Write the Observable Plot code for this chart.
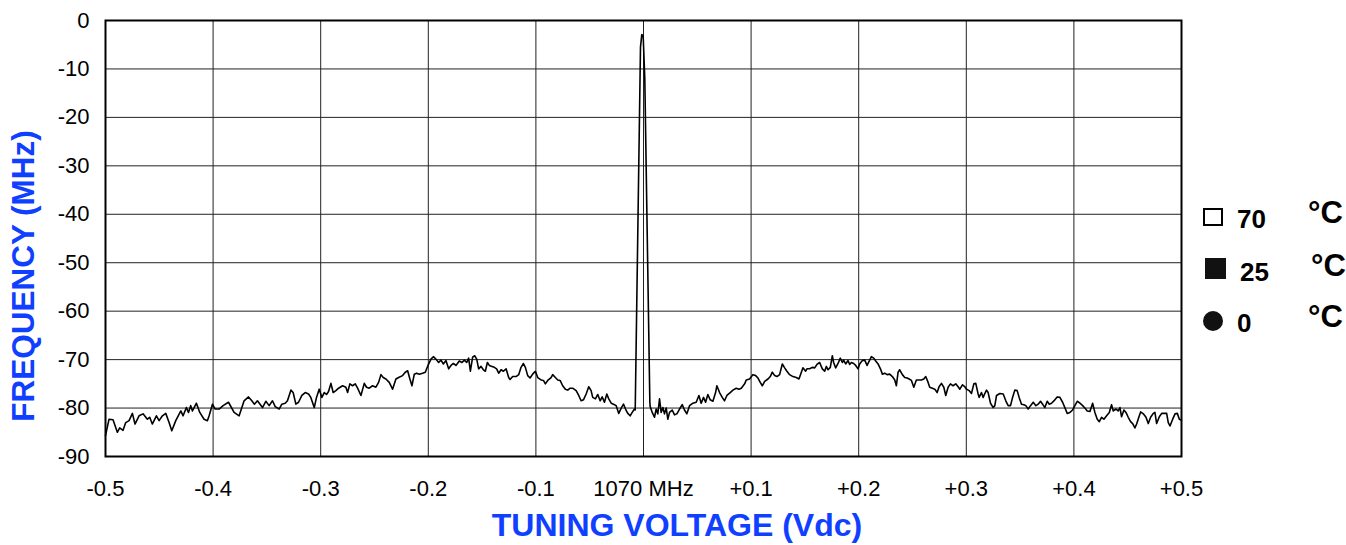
<!DOCTYPE html>
<html><head><meta charset="utf-8">
<script src="https://cdn.jsdelivr.net/npm/d3@7"></script>
<script src="https://cdn.jsdelivr.net/npm/@observablehq/plot@0.6"></script>
<style>
html,body{margin:0;padding:0;background:#fff;}
#chart{width:1346px;height:545px;}
</style>
</head><body><div id="chart"></div>
<script>
// Tuning voltage offsets (Vdc) and measured level
const tuningVdc = [
-0.5,-0.4967,-0.4930,-0.4890,-0.4868,-0.4837,-0.4812,-0.4781,-0.4750,-0.4726,-0.4688,-0.4651,-0.4611,-0.4589,-0.4565,-0.4527,-0.4502,-0.4471,-0.4440,-0.4409,-0.4384,-0.4347,-0.4300,-0.4279,-0.4248,-0.4229,-0.4208,-0.4192,-0.4155,-0.4124,-0.4084,-0.4053,-0.4037,-0.4006,-0.3981,-0.3944,-0.3907,-0.3857,-0.3805,-0.3758,-0.3712,-0.3671,-0.3640,-0.3616,-0.3588,-0.3541,-0.3510,-0.3479,-0.3448,-0.3423,
-0.3386,-0.3361,-0.3330,-0.3309,-0.3277,-0.3256,-0.3231,-0.3206,-0.3175,-0.3144,-0.3113,-0.3092,-0.3060,-0.3039,-0.3014,-0.2989,-0.2967,-0.2946,-0.2927,-0.2905,-0.2884,-0.2859,-0.2834,-0.2797,-0.2766,-0.2750,-0.2729,-0.2704,-0.2679,-0.2657,-0.2626,-0.2595,-0.2574,-0.2549,-0.2518,-0.2487,-0.2462,-0.2440,-0.2419,-0.2394,-0.2363,-0.2332,-0.2301,-0.2276,-0.2239,-0.2214,-0.2192,-0.2171,-0.2152,-0.2130,-0.2109,-0.2084,-0.2053,-0.2028,-0.2003,-0.1975,-0.1953,-0.1929,-0.1904,-0.1882,-0.1860,-0.1836,-0.1811,-0.1789,-0.1767,-0.1743,-0.1712,
-0.1687,-0.1665,-0.1643,-0.1625,-0.1609,-0.1588,-0.1569,-0.1550,-0.1532,-0.1510,-0.1488,-0.1470,-0.1451,-0.1433,-0.1408,-0.1386,-0.1365,-0.1346,-0.1324,-0.1302,-0.1277,-0.1253,-0.1240,-0.1216,-0.1184,-0.1160,-0.1138,-0.1116,-0.1098,-0.1076,-0.1054,-0.1030,-0.1005,-0.0983,-0.0952,-0.0930,-0.0912,-0.0890,-0.0859,-0.0844,-0.0819,-0.0797,-0.0775,-0.0751,-0.0726,-0.0704,-0.0682,-0.0658,-0.0626,-0.0602,-0.0580,-0.0558,-0.0533,-0.0509,-0.0487,-0.0472,-0.0447,-0.0425,-0.0403,-0.0384,-0.0363,-0.0341,-0.0323,-0.0300,-0.0279,-0.0254,-0.0230,-0.0207,-0.0186,-0.0167,-0.0146,-0.0124,-0.0105,-0.0084,-0.0077,
-0.0028,-0.0016,-0.0003,0.0012,0.0059,
0.0062,0.0081,0.0102,0.0118,0.0133,0.0149,0.0164,0.0180,0.0195,0.0211,0.0226,0.0242,0.0267,0.0288,0.0310,0.0335,0.0360,0.0381,0.0403,0.0428,0.0459,0.0490,0.0515,0.0536,0.0558,0.0577,0.0598,0.0620,0.0645,0.0670,0.0682,0.0707,0.0732,0.0753,0.0775,0.0806,0.0831,0.0862,0.0887,0.0909,0.0940,0.0955,0.0986,0.1017,0.1042,0.1064,0.1085,0.1104,0.1126,0.1157,0.1178,0.1197,0.1219,0.1240,0.1265,0.1290,0.1312,0.1333,0.1358,0.1389,0.1420,0.1445,0.1467,0.1482,0.1507,0.1519,0.1544,0.1569,0.1591,0.1612,0.1637,
0.1662,0.1684,0.1699,0.1715,0.1736,0.1755,0.1767,0.1786,0.1808,0.1829,0.1848,0.1860,0.1879,0.1901,0.1916,0.1932,0.1953,0.1972,0.1994,0.2009,0.2034,0.2056,0.2078,0.2102,0.2118,0.2140,0.2158,0.2180,0.2202,0.2220,0.2242,0.2264,0.2288,0.2313,0.2335,0.2350,0.2366,0.2381,0.2406,0.2428,0.2450,0.2468,0.2490,0.2512,0.2536,0.2561,0.2583,0.2605,0.2623,0.2645,0.2660,0.2685,0.2707,0.2729,0.2747,0.2769,0.2791,0.2809,0.2831,0.2853,0.2877,0.2902,0.2924,0.2940,0.2964,0.2986,0.3002,0.3026,0.3048,0.3070,0.3088,0.3110,0.3119,0.3141,0.3157,0.3172,0.3188,0.3203,0.3225,0.3250,0.3265,0.3281,0.3312,
0.3343,0.3367,0.3389,0.3411,0.3430,0.3451,0.3473,0.3491,0.3513,0.3535,0.3553,0.3575,0.3597,0.3622,0.3647,0.3668,0.3690,0.3709,0.3730,0.3752,0.3771,0.3792,0.3823,0.3845,0.3870,0.3895,0.3916,0.3938,0.3963,0.3988,0.4009,0.4031,0.4056,0.4081,0.4102,0.4124,0.4149,0.4174,0.4195,0.4217,0.4236,0.4257,0.4279,0.4304,0.4329,0.4350,0.4366,0.4391,0.4412,0.4428,0.4443,0.4465,0.4484,0.4505,0.4527,0.4546,0.4567,0.4583,0.4608,0.4620,0.4645,0.4670,0.4691,0.4713,0.4738,0.4753,0.4769,0.4794,0.4816,0.4837,0.4862,0.4877,0.4893,0.4918,0.4940,0.4961,0.4980,0.5
];
const levelDb = [
-85.7,-82.3,-82.4,-85.0,-84.1,-84.6,-83.0,-82.6,-81.1,-83.3,-81.6,-81.2,-82.3,-81.9,-83.3,-81.6,-82.6,-81.6,-81.1,-83.0,-84.7,-82.6,-80.6,-81.6,-79.9,-80.9,-79.5,-80.6,-79.0,-80.9,-82.3,-82.6,-81.6,-79.2,-80.2,-80.2,-79.5,-78.8,-80.9,-81.6,-78.5,-77.7,-78.5,-79.2,-78.5,-79.9,-78.6,-79.5,-78.5,-79.7,
-80.2,-79.2,-79.0,-78.5,-76.3,-76.8,-79.2,-78.8,-77.4,-76.8,-77.1,-77.8,-79.9,-77.8,-76.1,-77.8,-76.8,-77.2,-76.6,-74.9,-76.8,-76.4,-75.9,-75.4,-75.7,-76.8,-75.0,-75.4,-75.0,-75.9,-77.4,-74.9,-75.7,-75.9,-75.4,-75.7,-74.7,-73.1,-73.7,-74.0,-74.7,-76.1,-74.0,-73.7,-73.3,-72.6,-72.3,-74.0,-75.4,-73.0,-72.8,-73.0,-72.8,-72.6,-71.2,-69.9,-69.4,-69.9,-70.6,-70.1,-70.9,-70.2,-71.9,-71.2,-70.8,-71.2,-70.3,
-70.6,-70.1,-70.6,-69.7,-72.4,-69.5,-69.2,-69.9,-71.9,-71.4,-72.1,-72.4,-70.6,-71.2,-71.4,-71.6,-71.9,-72.8,-72.1,-72.4,-71.9,-73.7,-74.1,-73.5,-73.5,-73.1,-71.6,-70.8,-71.6,-73.3,-73.8,-73.0,-72.4,-73.7,-74.2,-74.3,-75.0,-74.3,-73.7,-73.1,-73.7,-74.2,-74.3,-75.4,-76.1,-76.3,-75.9,-75.9,-76.4,-77.4,-78.5,-78.3,-77.1,-75.6,-76.4,-77.8,-78.1,-77.2,-78.5,-77.7,-78.8,-77.1,-78.1,-79.0,-79.2,-79.5,-81.1,-80.0,-79.2,-80.2,-81.1,-81.6,-80.9,-80.2,-80.4,
-5.5,-2.9,-3.2,-12.0,-78.8,
-79.7,-80.9,-81.9,-80.2,-81.2,-78.1,-80.9,-79.9,-81.2,-80.0,-82.3,-80.9,-80.4,-81.4,-81.2,-80.2,-79.3,-80.4,-81.2,-79.5,-79.0,-78.8,-77.4,-79.0,-77.8,-78.8,-77.2,-78.3,-78.6,-76.8,-75.4,-76.8,-77.8,-78.5,-77.4,-76.8,-76.3,-75.9,-76.1,-75.9,-75.0,-74.2,-74.0,-73.1,-73.3,-73.8,-74.7,-75.4,-74.5,-74.0,-73.5,-72.6,-73.3,-73.5,-73.1,-70.9,-71.7,-72.4,-73.1,-73.5,-73.7,-74.0,-72.6,-71.7,-72.4,-71.9,-71.9,-71.6,-71.7,-71.0,-70.6,
-71.9,-72.4,-71.4,-72.1,-71.6,-69.2,-70.6,-71.7,-70.8,-69.7,-70.6,-70.1,-70.9,-70.2,-71.0,-70.6,-70.8,-71.2,-71.9,-70.9,-70.2,-70.1,-71.2,-70.1,-69.4,-69.7,-70.3,-70.9,-71.9,-73.0,-72.8,-73.1,-73.0,-73.5,-74.2,-75.4,-72.6,-72.1,-73.1,-73.7,-73.8,-74.0,-74.3,-75.7,-74.2,-74.2,-74.2,-74.0,-73.5,-74.7,-75.7,-75.9,-76.1,-76.8,-75.6,-74.9,-75.7,-77.4,-75.7,-75.0,-75.4,-75.0,-75.6,-76.1,-75.2,-75.6,-76.1,-76.4,-77.0,-75.0,-74.9,-77.1,-77.8,-76.8,-77.8,-77.0,-76.3,-76.8,-79.0,-79.9,-79.5,-77.4,-77.0,
-77.1,-78.5,-79.5,-79.5,-77.8,-76.3,-76.4,-77.8,-79.2,-79.3,-79.5,-80.2,-79.5,-78.8,-79.5,-79.2,-78.6,-79.2,-79.9,-78.6,-79.2,-79.0,-78.3,-77.7,-77.8,-78.8,-79.9,-81.1,-80.9,-80.4,-79.5,-78.6,-79.0,-79.5,-80.0,-80.6,-80.7,-79.0,-80.9,-82.3,-82.8,-81.9,-82.3,-81.6,-80.9,-79.3,-80.6,-80.2,-80.6,-79.9,-81.8,-80.4,-80.9,-81.9,-82.8,-83.2,-84.1,-83.3,-81.6,-80.8,-81.2,-81.9,-83.2,-81.9,-81.1,-80.9,-83.2,-81.8,-81.1,-81.1,-81.1,-83.0,-83.7,-82.3,-81.2,-81.1,-82.3,-82.5
];
const xTicks = [-0.5,-0.4,-0.3,-0.2,-0.1,0,0.1,0.2,0.3,0.4,0.5];
const xTickLabels = ["-0.5","-0.4","-0.3","-0.2","-0.1","1070 MHz","+0.1","+0.2","+0.3","+0.4","+0.5"];
const yTicks = [0,-10,-20,-30,-40,-50,-60,-70,-80,-90];
const yTickLabels = ["0","-10","-20","-30","-40","-50","-60","-70","-80","-90"];
const xTitle = "TUNING VOLTAGE (Vdc)";
const yTitle = "FREQUENCY (MHz)";
const legendTemps = ["70","25","0"];
const legendUnit = "°C";

const trace = tuningVdc.map((v, i) => ({v, db: levelDb[i]}));

const chart = Plot.plot({
  width: 1346, height: 545,
  marginLeft: 105, marginRight: 165, marginTop: 20, marginBottom: 89,
  style: {fontFamily: "'Liberation Sans', Arial, sans-serif", fontSize: "22px", color: "#000", background: "#fff"},
  x: {domain: [-0.5, 0.5]},
  y: {domain: [-90, 0]},
  marks: [
    Plot.gridX(xTicks, {stroke: "#222", strokeOpacity: 1, strokeWidth: 1}),
    Plot.gridY(yTicks, {stroke: "#222", strokeOpacity: 1, strokeWidth: 1}),
    Plot.axisX(xTicks, {tickSize: 0, tickPadding: 24, label: null, fontSize: 22,
      tickFormat: d => xTickLabels[xTicks.indexOf(d)]}),
    Plot.axisY(yTicks, {tickSize: 0, tickPadding: 16, label: null, fontSize: 22,
      tickFormat: d => yTickLabels[yTicks.indexOf(d)]}),
    Plot.line(trace, {x: "v", y: "db", stroke: "#000", strokeWidth: 1.6}),
    Plot.frame({stroke: "#000", strokeWidth: 2})
  ]
});

const svg = d3.select(chart);
const blue = "#1040ff";
const font = "'Liberation Sans', Arial, sans-serif";
svg.append("text").attr("x", 677).attr("y", 536).attr("text-anchor", "middle")
  .attr("font-family", font).attr("font-weight", "bold").attr("font-size", 32)
  .attr("fill", blue).text(xTitle);
svg.append("text").attr("transform", "translate(34,276) rotate(-90)").attr("text-anchor", "middle")
  .attr("font-family", font).attr("font-weight", "bold").attr("font-size", 31.5)
  .attr("fill", blue).text(yTitle);

const lg = svg.append("g").attr("font-family", font).attr("font-weight", "bold")
  .attr("fill", "#000").attr("text-anchor", "start");
lg.append("rect").attr("x", 1204).attr("y", 209).attr("width", 18).attr("height", 16)
  .attr("fill", "#fff").attr("stroke", "#000").attr("stroke-width", 2);
lg.append("rect").attr("x", 1205).attr("y", 258).attr("width", 21).attr("height", 21).attr("fill", "#111");
lg.append("circle").attr("cx", 1213).attr("cy", 321).attr("r", 10).attr("fill", "#111");
const numPos = [[1237, 228], [1240, 281], [1237, 332]];
const unitPos = [[1308, 223], [1311, 276], [1308, 327]];
legendTemps.forEach((t, i) => {
  lg.append("text").attr("x", numPos[i][0]).attr("y", numPos[i][1]).attr("font-size", 26)
    .attr("text-anchor", "start").text(t);
  lg.append("text").attr("x", unitPos[i][0]).attr("y", unitPos[i][1]).attr("font-size", 31)
    .attr("text-anchor", "start").text(legendUnit);
});

document.getElementById("chart").appendChild(chart);
</script>
</body></html>
